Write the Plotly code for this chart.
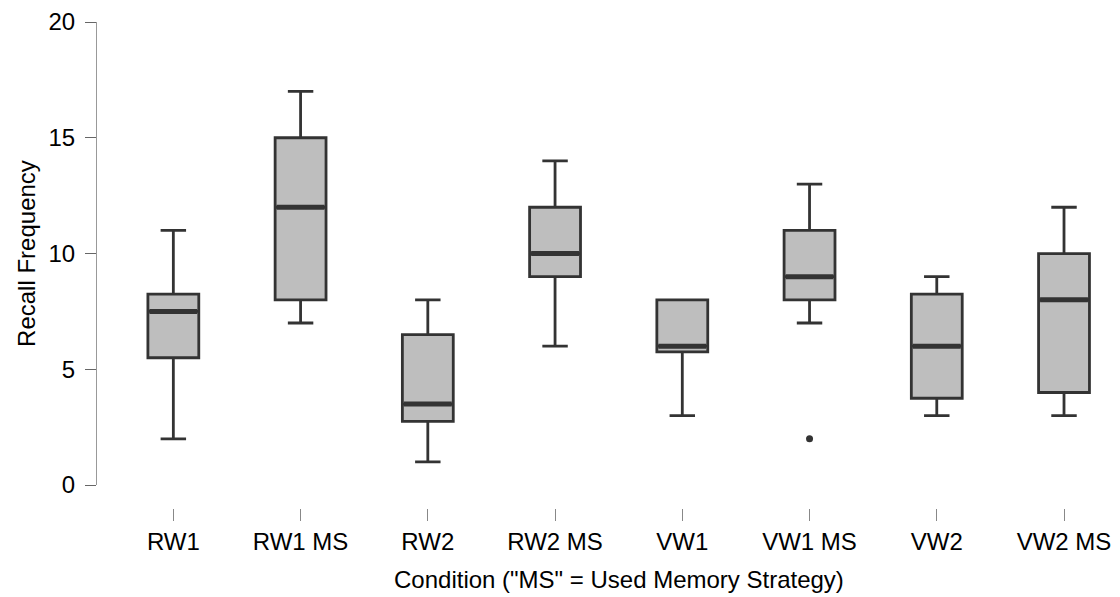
import plotly.graph_objects as go

categories = ["RW1", "RW1 MS", "RW2", "RW2 MS", "VW1", "VW1 MS", "VW2", "VW2 MS"]
lower_whisker = [2, 7, 1, 6, 3, 7, 3, 3]
q1 = [5.5, 8, 2.75, 9, 5.75, 8, 3.75, 4]
median = [7.5, 12, 3.5, 10, 6, 9, 6, 8]
q3 = [8.25, 15, 6.5, 12, 8, 11, 8.25, 10]
upper_whisker = [11, 17, 8, 14, 8, 13, 9, 12]
outlier_cat = ["VW1 MS"]
outlier_val = [2]

y_ticks = [0, 5, 10, 15, 20]

pos = list(range(len(categories)))
BOX_W = 0.4
LINE = "#333333"
FONT = "Liberation Sans, Arial, sans-serif"

fig = go.Figure()
fig.add_trace(go.Box(
    x=pos, q1=q1, median=median, q3=q3,
    lowerfence=lower_whisker, upperfence=upper_whisker,
    width=BOX_W, whiskerwidth=0.5,
    fillcolor="#BEBEBE", line=dict(color=LINE, width=2.8),
    boxpoints=False, showlegend=False, hoverinfo="skip",
))

# thick median bars
mx, my = [], []
for p, m in zip(pos, median):
    mx += [p - BOX_W / 2 + 0.012, p + BOX_W / 2 - 0.012, None]
    my += [m, m, None]
fig.add_trace(go.Scatter(x=mx, y=my, mode="lines",
                         line=dict(color=LINE, width=5),
                         showlegend=False, hoverinfo="skip"))

# outliers
fig.add_trace(go.Scatter(x=[categories.index(c) for c in outlier_cat], y=outlier_val,
                         mode="markers", marker=dict(color=LINE, size=7),
                         showlegend=False, hoverinfo="skip"))

# the page body adds an 8px margin; lay out in figure pixels accordingly
W, H = 1112, 589
top, bottom_axis = 12, 500
plot_h = bottom_axis - top
y0_px = 477
ydom0 = (bottom_axis - y0_px) / plot_h
title_y_px = 572

fig.update_layout(
    width=W, height=H,
    margin=dict(l=89, r=0, t=top, b=H - bottom_axis),
    plot_bgcolor="white", paper_bgcolor="white",
    font=dict(family=FONT, size=24, color="black"),
    xaxis=dict(
        range=[-0.6, 7.44], tickmode="array", tickvals=pos, ticktext=categories,
        showgrid=False, zeroline=False, showline=False,
        ticks="outside", ticklen=12, tickcolor="#888888", tickwidth=1,
        anchor="free", position=0, ticklabelstandoff=0,
        ticklabeloverflow="allow",
    ),
    yaxis=dict(
        range=[0, 20], domain=[ydom0, 1], tickvals=y_ticks,
        showgrid=False, zeroline=False, showline=True, linecolor="#999999", linewidth=1,
        ticks="outside", ticklen=11, tickcolor="#666666", tickwidth=1,
        ticklabelstandoff=5, ticklabeloverflow="allow",
        title=dict(text="Recall Frequency", font=dict(size=24), standoff=6),
    ),
    annotations=[dict(
        text='Condition ("MS" = Used Memory Strategy)', x=3.5, xref="x",
        y=(bottom_axis - title_y_px) / plot_h, yref="paper", yanchor="middle",
        showarrow=False, font=dict(size=24),
    )],
)

fig.write_html("out.html")
